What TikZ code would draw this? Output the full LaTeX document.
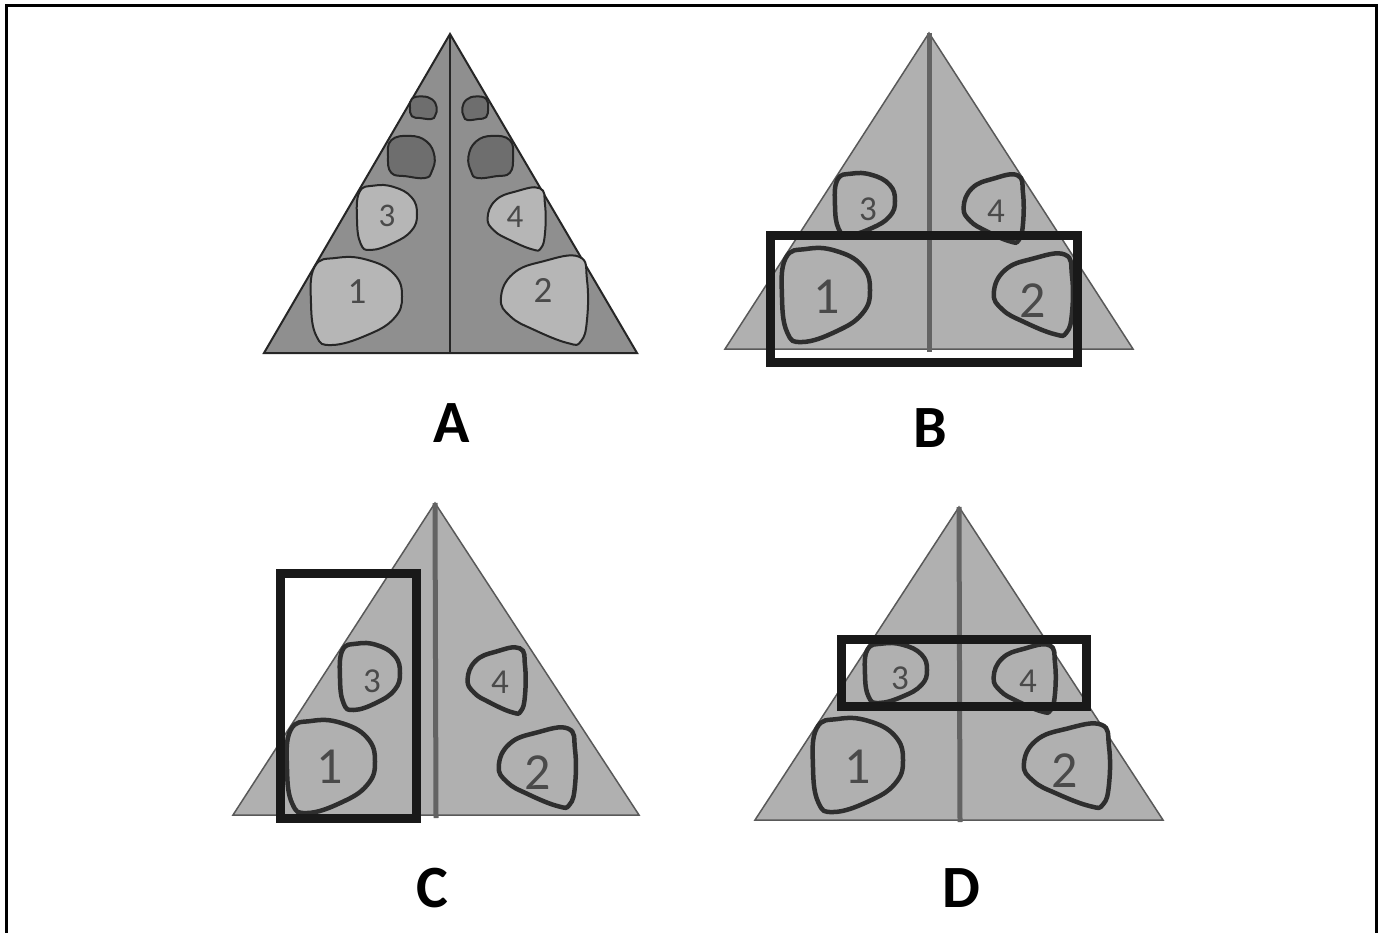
\documentclass[tikz,border=0pt]{standalone}
\usepackage{fontspec}
\setmainfont{Carlito}
\definecolor{triAfill}{HTML}{8F8F8F}
\definecolor{blobAfill}{HTML}{B6B6B6}
\definecolor{darkfill}{HTML}{6E6E6E}
\definecolor{triBfill}{HTML}{B0B0B0}
\definecolor{midline}{HTML}{636363}
\definecolor{ink}{HTML}{2E2E2E}
\definecolor{digit}{HTML}{4A4A4A}
\tikzset{
  triA/.style={fill=triAfill, draw=black!85, line width=2pt},
  midA/.style={draw=black!85, line width=2pt},
  blobA/.style={fill=blobAfill, draw=black!85, line width=2pt},
  darkA/.style={fill=darkfill, draw=black!85, line width=2pt},
  triB/.style={fill=triBfill, draw=black!65, line width=1.5pt},
  midB/.style={draw=midline, line width=5pt},
  blobB/.style={fill=triBfill, draw=ink, line width=4.5pt},
  selbox/.style={draw=black!90, line width=9pt},
  numsmall/.style={inner sep=0pt, text=digit, font=\fontsize{33}{33}\selectfont},
  numbig/.style={inner sep=0pt, text=digit, font=\fontsize{37}{37}\selectfont},
  numB/.style={inner sep=0pt, text=digit, font=\fontsize{52}{52}\selectfont},
  numBs/.style={inner sep=0pt, text=digit, font=\fontsize{35}{35}\selectfont},
  letter/.style={inner sep=0pt, font=\bfseries\fontsize{60}{60}\selectfont},
  frameline/.style={draw=black, line width=3pt}
}
% blob pointing right (like 1 and 3)
\newcommand\blobR[5]{\begin{scope}[shift={(#2,#3)},xscale={(#4)-(#2)},yscale={(#5)-(#3)}]
\path[#1] plot[smooth cycle,tension=0.75] coordinates {(0.28,0.01) (0.04,0.11) (0,0.53) (0.06,0.9) (0.23,1.0) (0.61,0.89) (0.91,0.7) (1.0,0.45) (0.91,0.19) (0.61,0.03)};
\end{scope}}
% blob pointing left (like 2 and 4)
\newcommand\blobL[5]{\begin{scope}[shift={(#2,#3)},xscale={(#4)-(#2)},yscale={(#5)-(#3)}]
\path[#1] plot[smooth cycle,tension=0.75] coordinates {(0.01,0.49) (0.15,0.21) (0.5,0.07) (0.91,0.02) (1.0,0.28) (1.0,0.73) (0.93,0.97) (0.78,0.99) (0.39,0.84) (0.12,0.69)};
\end{scope}}
% dark blob, left side
\newcommand\darkLeft[5]{\begin{scope}[shift={(#2,#3)},xscale={(#4)-(#2)},yscale={(#5)-(#3)}]
\path[#1] plot[smooth cycle,tension=0.75] coordinates {(0.07,0.12) (0.46,0.02) (0.82,0.15) (0.99,0.5) (0.93,0.85) (0.79,1.0) (0.39,0.96) (0.07,0.88) (0,0.5)};
\end{scope}}
% dark blob, right side (mirror)
\newcommand\darkRight[5]{\begin{scope}[shift={(#4,#3)},xscale={(#2)-(#4)},yscale={(#5)-(#3)}]
\path[#1] plot[smooth cycle,tension=0.75] coordinates {(0.07,0.12) (0.46,0.02) (0.82,0.15) (0.99,0.5) (0.93,0.85) (0.79,1.0) (0.39,0.96) (0.07,0.88) (0,0.5)};
\end{scope}}
\begin{document}
\begin{tikzpicture}[x=1pt,y=-1pt]
\useasboundingbox (0,0) rectangle (1381,933);
\fill[white] (0,0) rectangle (1381,933);
% frame
\coordinate (f1) at (6,933);
\coordinate (f2) at (6,6);
\coordinate (f3) at (1376,6);
\coordinate (f4) at (1376,933);
\draw[frameline] (f1) -- (f2) -- (f3) -- (f4);

% ---------------- Panel A ----------------
\coordinate (aT) at (450,34);
\coordinate (aL) at (264,353);
\coordinate (aR) at (637,353);
\coordinate (aB) at (450,353);
\draw[triA] (aT) -- (aL) -- (aR) -- cycle;
\draw[midA] (aT) -- (aB);
\blobR{blobA}{311}{257}{402}{345}
\blobL{blobA}{500}{255}{587}{344}
\blobR{blobA}{357}{185}{417}{250}
\blobL{blobA}{487}{187}{545}{250}
\darkLeft{darkA}{388}{135}{435}{178}
\darkRight{darkA}{468}{135}{513}{178}
\darkLeft{darkA}{410}{96}{437}{119}
\darkRight{darkA}{462}{96}{488}{120}
\node[numbig] (a1) at (357,292) {1};
\node[numbig] (a2) at (543,290) {2};
\node[numsmall] (a3) at (387,216) {3};
\node[numsmall] (a4) at (515,217) {4};
\node[letter] (labA) at (452,423) {A};

% ---------------- Panel B ----------------
\coordinate (bT) at (929,33);
\coordinate (bL) at (725,349);
\coordinate (bR) at (1133,349);
\coordinate (bB) at (929,352);
\draw[triB] (bT) -- (bL) -- (bR) -- cycle;
\draw[midB] (bT) -- (bB);
\blobR{blobB}{782}{248}{870}{342}
\blobL{blobB}{993}{253}{1072}{335}
\blobR{blobB}{835}{173}{895}{235}
\blobL{blobB}{963}{174}{1023}{242}
\node[numB] (b1) at (827,297) {1};
\node[numB] (b2) at (1033,301) {2};
\node[numBs] (b3) at (868,209) {3};
\node[numBs] (b4) at (996,211) {4};
\draw[selbox] (770,236) rectangle (1077,362);
\node[letter] (labB) at (930,428) {B};

% ---------------- Panel C ----------------
\coordinate (cT) at (435,503);
\coordinate (cL) at (233,815);
\coordinate (cR) at (639,815);
\coordinate (cB) at (436,818);
\draw[triB] (cT) -- (cL) -- (cR) -- cycle;
\draw[midB] (cT) -- (cB);
\blobR{blobB}{287}{720}{375}{813}
\blobL{blobB}{498}{727}{575}{807}
\blobR{blobB}{340}{643}{400}{710}
\blobL{blobB}{467}{647}{525}{713}
\node[numB] (c1) at (330,767) {1};
\node[numB] (c2) at (538,773) {2};
\node[numBs] (c3) at (372,681) {3};
\node[numBs] (c4) at (500,682) {4};
\draw[selbox] (280,573) rectangle (416,818);
\node[letter] (labC) at (432,888) {C};

% ---------------- Panel D ----------------
\coordinate (dT) at (959,507);
\coordinate (dL) at (755,820);
\coordinate (dR) at (1163,820);
\coordinate (dB) at (960,822);
\draw[triB] (dT) -- (dL) -- (dR) -- cycle;
\draw[midB] (dT) -- (dB);
\blobR{blobB}{813}{718}{903}{812}
\blobL{blobB}{1023}{723}{1109}{807}
\blobR{blobB}{865}{643}{927}{703}
\blobL{blobB}{993}{644}{1055}{712}
\node[numB] (d1) at (858,767) {1};
\node[numB] (d2) at (1065,771) {2};
\node[numBs] (d3) at (900,678) {3};
\node[numBs] (d4) at (1028,681) {4};
\draw[selbox] (841,639) rectangle (1086,706);
\node[letter] (labD) at (961,888) {D};
\end{tikzpicture}
\end{document}
